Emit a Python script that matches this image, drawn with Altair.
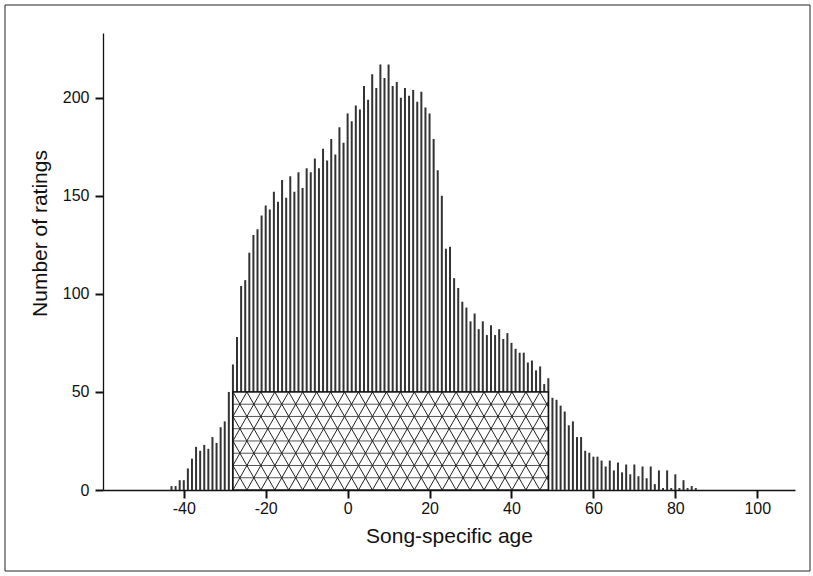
import altair as alt
import pandas as pd

# ---- data ----
ages = list(range(-43, 86))
counts = [2, 2, 5, 5, 11, 16, 22, 20, 23, 21,
          27, 24, 32, 35, 50, 64, 78, 104, 107, 121,
          130, 133, 140, 145, 143, 152, 147, 158, 149, 160,
          152, 162, 154, 164, 162, 169, 164, 174, 168, 179,
          171, 185, 177, 192, 188, 196, 194, 206, 199, 212,
          205, 217, 210, 217, 206, 208, 200, 205, 201, 204,
          198, 203, 195, 192, 179, 163, 150, 123, 124, 108,
          103, 96, 93, 86, 90, 82, 86, 79, 84, 79,
          82, 77, 80, 75, 72, 70, 70, 65, 66, 61,
          63, 54, 57, 47, 46, 43, 40, 33, 35, 27,
          27, 20, 19, 17, 17, 15, 12, 15, 10, 14,
          9, 13, 8, 13, 7, 12, 6, 12, 3, 10,
          1, 10, 1, 8, 1, 5, 1, 2, 1]

# highlighted (hatched) age window
hatch_x = [-28, 49]
hatch_y = [0, 50]

x_ticks = [-40, -20, 0, 20, 40, 60, 80, 100]
y_ticks = [0, 50, 100, 150, 200]
x_domain = [-58.5, 108]
y_domain = [0, 233]

W, H = 692, 457

bars_df = pd.DataFrame({"age": ages, "count": counts})
rect_df = pd.DataFrame({"x0": [hatch_x[0]], "x1": [hatch_x[1]],
                        "y0": [hatch_y[0]], "y1": [hatch_y[1]]})

# ---- triangular lattice fill for the hatched window (decoration) ----
rows = 8
h = (hatch_y[1] - hatch_y[0]) / rows                 # row height in data units
px_per_x = W / (x_domain[1] - x_domain[0])
px_per_y = H / (y_domain[1] - y_domain[0])
w = 2 * (h * px_per_y) / (3 ** 0.5) / px_per_x       # triangle base in data units
L, R = hatch_x
B, T = hatch_y

hlines = pd.DataFrame({"y": [B + j * h for j in range(1, rows)]})
hlines["x0"] = L
hlines["x1"] = R

segs = []
k_min = int((L - R) / w) - 40
k_max = int((R - L) / w) + 40
for sgn in (1, -1):
    slope = sgn * (w / 2) / h
    for k in range(k_min, k_max):
        base = L + k * w
        y_at_L = B + (L - base) / slope
        y_at_R = B + (R - base) / slope
        lo, hi = sorted([y_at_L, y_at_R])
        y0 = max(B, lo)
        y1 = min(T, hi)
        if y1 - y0 > 1e-6:
            segs.append({"x0": base + slope * (y0 - B), "y0": y0,
                         "x1": base + slope * (y1 - B), "y1": y1})
diag = pd.DataFrame(segs)

xs = alt.Scale(domain=x_domain, nice=False, zero=False)
ys = alt.Scale(domain=y_domain, nice=False)
XT = "Song-specific age"
YT = "Number of ratings"
xa = alt.Axis(values=x_ticks, title=XT, labelExpr="toString(datum.value)")
ya = alt.Axis(values=y_ticks, title=YT)

frame = alt.Chart(pd.DataFrame({"a": [0]})).mark_rect(
    fill=None, stroke="#222222", strokeWidth=1, clip=False
).encode(
    x=alt.value(-98), x2=alt.value(W + 15),
    y=alt.value(-28), y2=alt.value(H + 81)
)

bars = alt.Chart(bars_df).mark_bar(size=2, color="#333333").encode(
    x=alt.X("age:Q", scale=xs, axis=xa),
    y=alt.Y("count:Q", scale=ys, axis=ya),
)

box = alt.Chart(rect_df).mark_rect(fill="white", stroke="#111111", strokeWidth=1).encode(
    x=alt.X("x0:Q", scale=xs, axis=xa), x2="x1:Q",
    y=alt.Y("y0:Q", scale=ys, axis=ya), y2="y1:Q",
)

hl = alt.Chart(hlines).mark_rule(color="#555555", strokeWidth=1).encode(
    x=alt.X("x0:Q", scale=xs, axis=xa), x2="x1:Q",
    y=alt.Y("y:Q", scale=ys, axis=ya),
)

dl = alt.Chart(diag).mark_rule(color="#222222", strokeWidth=1).encode(
    x=alt.X("x0:Q", scale=xs, axis=xa), x2="x1:Q",
    y=alt.Y("y0:Q", scale=ys, axis=ya), y2="y1:Q",
)

edge = alt.Chart(rect_df).mark_rect(fill=None, stroke="#111111", strokeWidth=1.2).encode(
    x=alt.X("x0:Q", scale=xs, axis=xa), x2="x1:Q",
    y=alt.Y("y0:Q", scale=ys, axis=ya), y2="y1:Q",
)

chart = alt.layer(frame, bars, box, hl, dl, edge).properties(
    width=W, height=H,
    autosize=alt.AutoSizeParams(type="none"),
    padding={"left": 103, "top": 33, "right": 18, "bottom": 86},
    background="white",
).configure_view(stroke=None).configure_axis(
    grid=False,
    domainColor="#111111", domainWidth=1.3,
    tickColor="#111111", tickWidth=2, tickSize=8,
    labelFont="Liberation Sans", labelFontSize=16, labelColor="#111111",
    titleFont="Liberation Sans", titleFontSize=21, titleFontWeight="normal",
    titleColor="#111111",
).configure_axisX(
    labelPadding=2, titlePadding=9, labelFlush=False,
).configure_axisY(
    labelPadding=6, titlePadding=12, titleY=200,
)

chart.save("out.html", embed_options={"renderer": "svg", "actions": False})
